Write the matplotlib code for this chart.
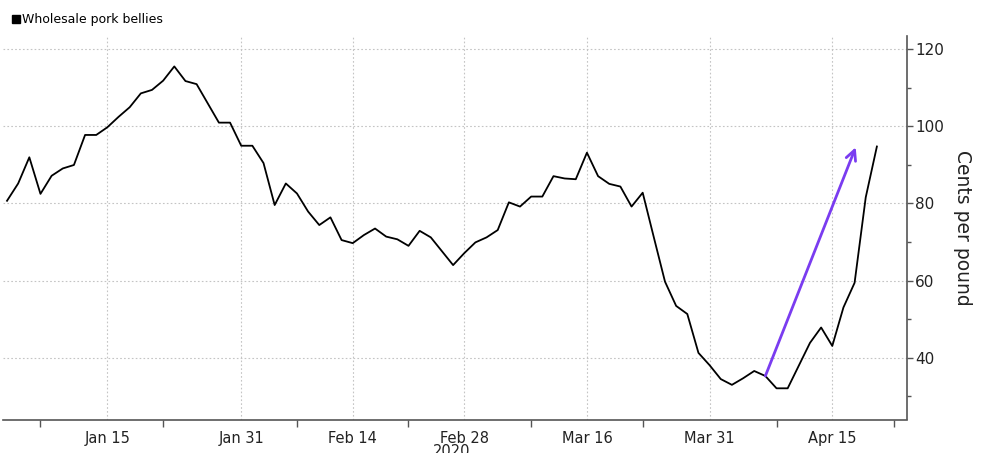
import numpy as np
import pandas as pd
import matplotlib
matplotlib.use("Agg")
import matplotlib.pyplot as plt
from matplotlib.lines import Line2D

# Wholesale pork bellies, cents per pound, one value per business day from Jan 2 2020
belly_price = [
    80.7, 85.2, 92.0, 82.5, 87.2, 89.1, 90.0, 97.8, 97.8, 99.8,
    102.5, 105.0, 108.6, 109.5, 111.9, 115.6, 111.8, 111.0, 106.0, 101.0,
    101.0, 95.0, 95.0, 90.5, 79.6, 85.2, 82.6, 77.9, 74.4, 76.4,
    70.5, 69.7, 71.8, 73.5, 71.4, 70.7, 69.0, 72.9, 71.2, 67.6,
    64.0, 67.1, 69.9, 71.2, 73.1, 80.3, 79.2, 81.8, 81.8, 87.1,
    86.5, 86.3, 93.2, 87.1, 85.1, 84.4, 79.2, 82.8, 71.2, 59.7,
    53.4, 51.3, 41.2, 38.0, 34.4, 32.9, 34.6, 36.5, 35.2, 32.0,
    32.0, 37.9, 43.8, 47.8, 43.0, 53.0, 59.4, 81.6, 94.8,
]
axis_dates = pd.bdate_range("2020-01-02", "2020-04-30")
label_dates = ["2020-01-15", "2020-01-31", "2020-02-14", "2020-02-28",
               "2020-03-16", "2020-03-31", "2020-04-15"]
label_text = ["Jan 15", "Jan 31", "Feb 14", "Feb 28", "Mar 16", "Mar 31", "Apr 15"]
minor_dates = ["2020-01-07", "2020-01-22", "2020-02-07", "2020-02-21",
               "2020-03-09", "2020-03-23", "2020-04-08", "2020-04-22"]
y_major = [40, 60, 80, 100, 120]
y_minor = [30, 50, 70, 90, 110]

# annotation arrow: from the Apr 7 value up to roughly Apr 17 at ~95 cents
arrow_start_date = "2020-04-07"
arrow_end_date = "2020-04-17"
arrow_end_value = 94.6


def pos(d):
    return axis_dates.get_loc(pd.Timestamp(d))


fig = plt.figure(figsize=(9.89, 4.53), dpi=100)
ax = fig.add_axes([3 / 989, 1 - 419.5 / 453, 904 / 989, 383.5 / 453])

x = np.arange(len(belly_price))
ax.plot(x, belly_price, color="black", lw=1.3, zorder=3)

i0 = pos(arrow_start_date)
ax.annotate("", xy=(pos(arrow_end_date) + 0.1, arrow_end_value),
            xytext=(i0, belly_price[i0]),
            arrowprops=dict(arrowstyle="->", color="#7a3cf0", lw=2,
                            mutation_scale=18, shrinkA=0, shrinkB=0),
            zorder=4)

ax.set_xlim(-0.36, 80.7)
ax.set_ylim(23.9, 123.5)

ax.set_xticks([pos(d) for d in label_dates])
ax.set_xticklabels(label_text)
ax.set_xticks([pos(d) + (0.5 if i == len(minor_dates) - 1 else 0)
               for i, d in enumerate(minor_dates)], minor=True)
ax.tick_params(axis="x", which="major", length=0, pad=8, labelsize=10.5,
               colors="#222222")
ax.tick_params(axis="x", which="minor", length=5, width=1, color="#555555")

ax.yaxis.tick_right()
ax.yaxis.set_label_position("right")
ax.set_yticks(y_major)
ax.set_yticks(y_minor, minor=True)
ax.tick_params(axis="y", which="major", length=4, width=1, pad=2,
               labelsize=11, color="#555555", labelcolor="#222222")
ax.tick_params(axis="y", which="minor", length=3, width=1, color="#555555")
ax.set_ylabel("Cents per pound", rotation=270, fontsize=13.5,
              labelpad=20, color="#222222")

ax.grid(True, which="major", linestyle=(0, (1.5, 2)), color="#c4c4c4", lw=0.8)
ax.set_axisbelow(True)

for side in ["left", "top"]:
    ax.spines[side].set_visible(False)
for side in ["right", "bottom"]:
    ax.spines[side].set_color("#555555")
    ax.spines[side].set_linewidth(1.2)

handle = Line2D([], [], marker="s", color="black", linestyle="none", markersize=6)
fig.legend([handle], ["Wholesale pork bellies"], loc="center left",
           bbox_to_anchor=(5 / 989, 1 - 20 / 453), frameon=False,
           fontsize=9, handletextpad=0.1, handlelength=0.8, borderpad=0)

fig.text(452 / 989, 1 - 444 / 453, "2020", ha="center", va="top",
         fontsize=10.5, color="#222222")

fig.savefig("out.png", dpi=100)
